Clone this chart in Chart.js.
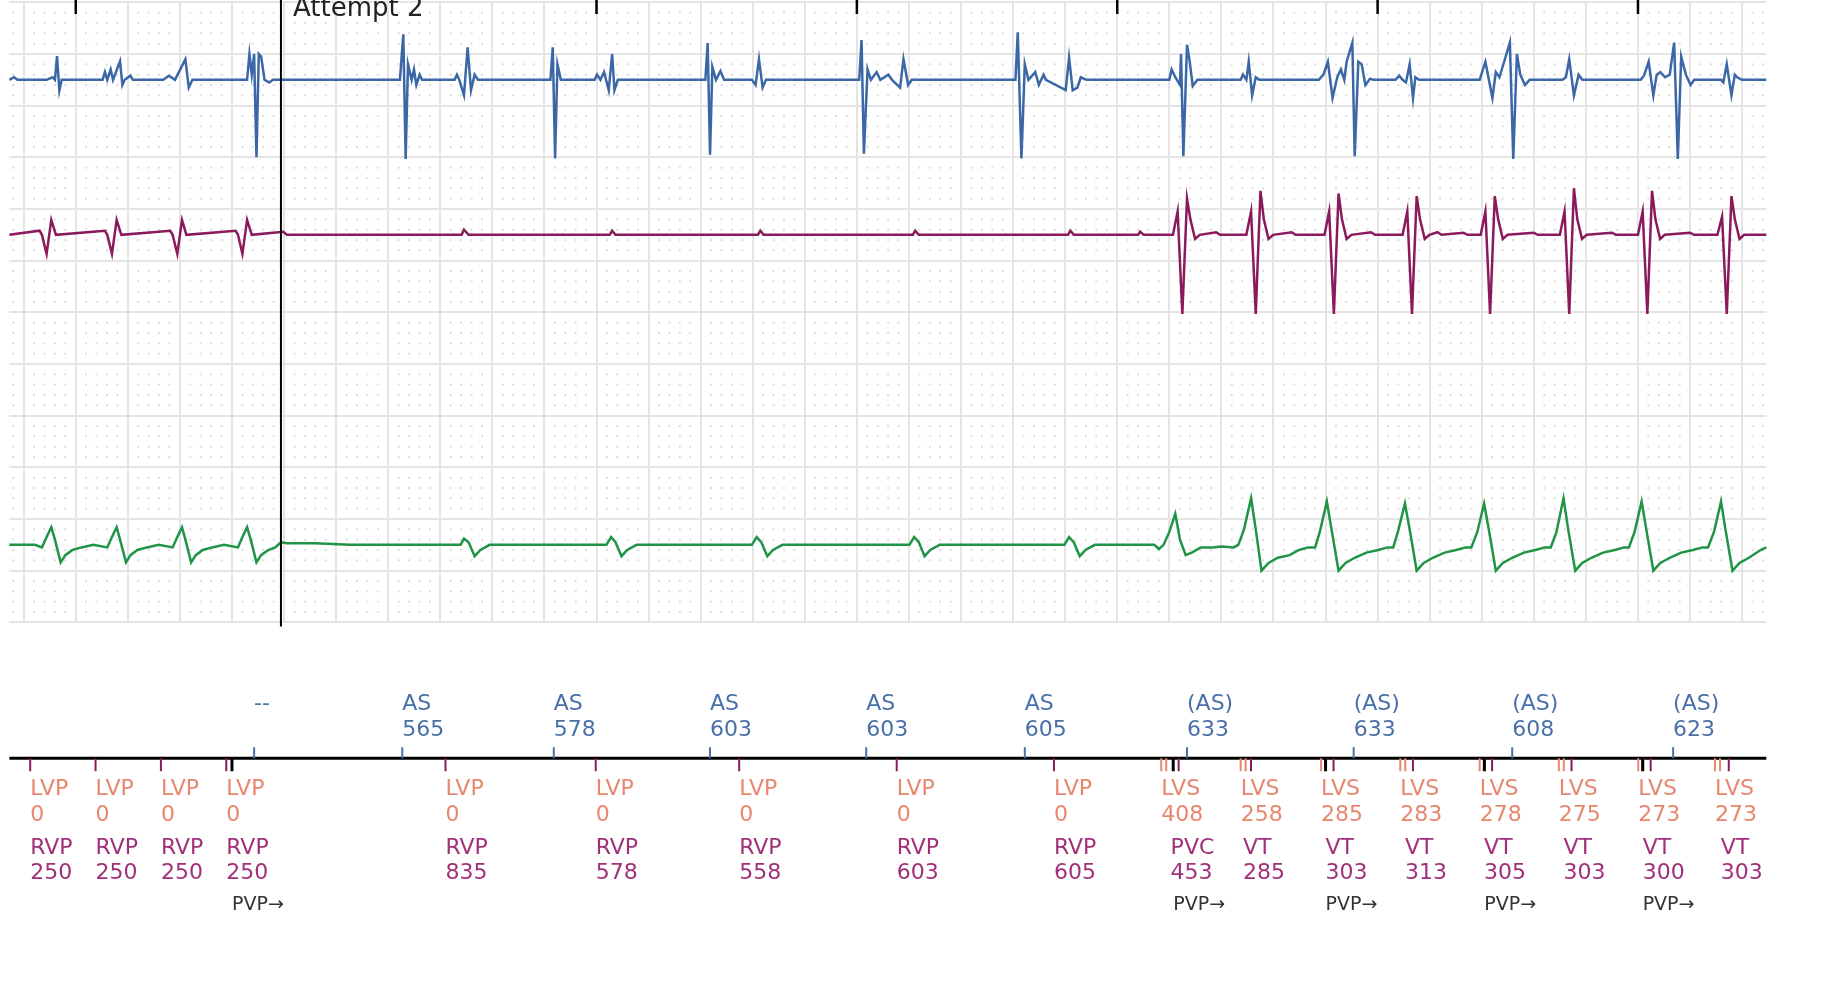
<!DOCTYPE html>
<html><head><meta charset="utf-8">
<script src="https://cdn.jsdelivr.net/npm/chart.js@4"></script>
<style>html,body{margin:0;padding:0;background:#fff;overflow:hidden}canvas{display:block}</style>
</head><body><canvas id="c" width="1827" height="1007"></canvas>
<script>
// ---- data (time in ms, amplitude in grid boxes) ----
const blueTrace=[[-255,0],[-237,0.05],[-224,0],[-112,0],[-89,0.05],[-80,0],[-72,0.46],[-63,-0.21],[-54,0],[-22,0],
[103,0],[112,0.15],[121,0],[134,0.2],[143,0],[170,0.36],[179,-0.1],[188,0],[210,0.08],[219,0],
[336,0],[358,0.08],[381,0],[421,0.4],[434,-0.15],[448,0],
[658,0],[667,0.5],[676,0.1],[685,0.5],[694,-1.5],[703,0.5],[712,0.45],[725,0],[743,-0.05],[757,0],
[1245,0],[1258,0.88],[1267,-1.53],[1276,0.3],[1290,0],[1299,0.2],[1308,-0.1],[1321,0.1],[1330,0],
[1455,0],[1464,0.1],[1473,0],[1491,-0.3],[1505,0.63],[1518,-0.2],[1532,0.1],[1545,0],
[1823,0],[1832,0.63],[1841,-1.52],[1850,0.3],[1863,0],
[1993,0],[2002,0.1],[2015,0],[2029,0.15],[2047,-0.2],[2060,0.5],[2069,-0.2],[2082,0],
[2418,0],[2427,0.71],[2436,-1.45],[2445,0.25],[2459,0],[2476,0.17],[2490,0],[2597,0],[2611,-0.1],[2624,0.4],[2638,-0.15],[2651,0],
[3009,0],[3018,0.77],[3027,-1.43],[3041,0.2],[3054,0],[3076,0.15],[3090,0],[3121,0.1],[3135,0],[3166,-0.15],[3179,0.4],[3197,-0.1],[3211,0],
[3609,0],[3618,0.92],[3632,-1.52],[3645,0.3],[3659,0],[3685,0.15],[3699,-0.1],[3708,0],[3717,0.1],[3726,0],
[3802,-0.2],[3815,0.43],[3829,-0.2],[3847,-0.15],[3860,0.05],[3882,0],
[4200,0],[4209,0.2],[4223,0.05],[4241,-0.1],[4245,0.5],[4254,-1.48],[4268,0.68],[4277,0.4],[4290,-0.12],[4308,0],
[4474,0],[4483,0.1],[4496,0],[4505,0.35],[4518,-0.3],[4532,0.05],[4545,0],
[4774,0],[4792,0.1],[4809,0.35],[4827,-0.35],[4845,0.05],[4859,0.2],[4872,0],[4881,0.35],[4903,0.72],[4912,-1.48],[4926,0.35],[4939,0.3],[4953,-0.1],[4971,0.02],[4984,0],
[5069,0],[5083,0.08],[5096,0],[5109,-0.05],[5123,0.3],[5136,-0.35],[5145,0.05],[5159,0],
[5392,0],[5414,0.35],[5441,-0.35],[5454,0.15],[5468,0.05],[5486,0.35],[5508,0.72],[5521,-1.53],[5535,0.5],[5548,0.1],[5566,-0.1],[5584,0],
[5710,0],[5723,0.05],[5736,0.4],[5754,-0.3],[5772,0.1],[5786,0],
[6010,0],[6023,0.08],[6041,0.35],[6059,-0.3],[6072,0.1],[6086,0.15],[6104,0.05],[6122,0.1],[6139,0.72],[6153,-1.53],[6166,0.45],[6184,0.1],[6202,-0.1],[6216,0],
[6319,0],[6328,-0.05],[6341,0.3],[6359,-0.3],[6372,0.1],[6381,0.05],[6399,0],[6493,0]];

const purpleTrace=[[-255,0],[-139,0.08],[-130,0],[-112,-0.37],[-94,0.29],[-76,0],
[112,0.08],[121,0],[139,-0.37],[157,0.29],[175,0],
[363,0.08],[372,0],[390,-0.37],[408,0.29],[425,0],
[614,0.08],[623,0],[640,-0.37],[658,0.29],[676,0],
[797,0.06],[811,0],[1482,0],[1491,0.1],[1509,0],[2051,0],[2060,0.08],[2073,0],[2620,0],[2629,0.08],[2642,0],
[3215,0],[3224,0.08],[3238,0],[3811,0],[3820,0.08],[3833,0],[4080,0],[4088,0.06],[4102,0],
[4214,0],[4232,0.45],[4250,-1.53],[4268,0.7],[4281,0.3],[4299,-0.08],[4317,0],[4380,0.05],[4395,0],
[4496,0],[4514,0.45],[4532,-1.53],[4550,0.85],[4563,0.3],[4581,-0.08],[4599,0],[4670,0.05],[4685,0],
[4796,0],[4814,0.45],[4832,-1.53],[4850,0.8],[4863,0.3],[4881,-0.08],[4899,0],[4975,0.05],[4990,0],
[5096,0],[5114,0.45],[5132,-1.53],[5150,0.75],[5163,0.3],[5181,-0.08],[5199,0],[5230,0.05],[5245,0],[5330,0.04],[5345,0],
[5396,0],[5414,0.45],[5432,-1.53],[5450,0.75],[5463,0.3],[5481,-0.08],[5499,0],[5600,0.04],[5615,0],
[5700,0],[5718,0.45],[5736,-1.53],[5754,0.9],[5767,0.3],[5785,-0.08],[5803,0],[5900,0.04],[5915,0],
[6000,0],[6018,0.45],[6036,-1.53],[6054,0.85],[6067,0.3],[6085,-0.08],[6103,0],[6200,0.04],[6215,0],
[6305,0],[6323,0.35],[6341,-1.53],[6359,0.75],[6372,0.3],[6390,-0.08],[6408,0],[6493,0]];

const greenTrace=[[-255,0],[-157,0],[-130,-0.05],[-112,0.15],[-94,0.34],[-80,0.1],[-58,-0.34],[-40,-0.2],[-13,-0.1],[22,-0.05],[67,0],
[121,-0.05],[139,0.15],[157,0.34],[170,0.1],[193,-0.34],[210,-0.2],[237,-0.1],[273,-0.05],[318,0],
[372,-0.05],[390,0.15],[408,0.34],[421,0.1],[443,-0.34],[461,-0.2],[488,-0.1],[524,-0.05],[569,0],
[623,-0.05],[640,0.15],[658,0.34],[672,0.1],[694,-0.34],[712,-0.2],[739,-0.1],[766,-0.05],[788,0.05],[811,0.03],[918,0.03],[1052,0],
[1478,0],[1491,0.12],[1509,0.05],[1532,-0.22],[1554,-0.1],[1590,0],
[2038,0],[2056,0.15],[2073,0.05],[2096,-0.22],[2118,-0.1],[2154,0],
[2597,0],[2615,0.15],[2633,0.05],[2656,-0.22],[2678,-0.1],[2714,0],
[3202,0],[3220,0.15],[3238,0.05],[3260,-0.22],[3282,-0.1],[3318,0],
[3797,0],[3815,0.15],[3833,0.05],[3856,-0.22],[3878,-0.1],[3914,0],
[4142,0],[4160,-0.08],[4178,0],[4200,0.25],[4223,0.6],[4241,0.1],[4263,-0.2],[4286,-0.15],[4321,-0.05],[4366,-0.05],[4402,-0.03],[4447,-0.05],
[4465,0],[4487,0.3],[4514,0.9],[4532,0.3],[4554,-0.5],[4581,-0.35],[4617,-0.25],[4662,-0.2],[4698,-0.1],[4733,-0.05],
[4760,-0.05],[4778,0.25],[4805,0.84],[4823,0.3],[4850,-0.5],[4877,-0.35],[4912,-0.25],[4957,-0.15],[5002,-0.1],[5038,-0.05],
[5060,-0.05],[5078,0.25],[5105,0.8],[5123,0.3],[5150,-0.5],[5177,-0.35],[5212,-0.25],[5257,-0.15],[5302,-0.1],[5338,-0.05],
[5360,-0.05],[5383,0.25],[5409,0.8],[5427,0.3],[5454,-0.5],[5481,-0.35],[5517,-0.25],[5562,-0.15],[5606,-0.1],[5642,-0.05],
[5665,-0.05],[5687,0.25],[5714,0.9],[5732,0.3],[5759,-0.5],[5786,-0.35],[5821,-0.25],[5866,-0.15],[5911,-0.1],[5947,-0.05],
[5965,-0.05],[5987,0.25],[6014,0.84],[6032,0.3],[6059,-0.5],[6086,-0.35],[6122,-0.25],[6166,-0.15],[6211,-0.1],[6247,-0.05],
[6269,-0.05],[6292,0.25],[6319,0.84],[6336,0.3],[6363,-0.5],[6390,-0.35],[6426,-0.25],[6471,-0.1],[6493,-0.05]];

const atrialT=[685,1254,1836,2436,3036,3645,4268,4908,5517,6135];
const atrialLabel=['--','AS','AS','AS','AS','AS','(AS)','(AS)','(AS)','(AS)'];
const atrialValue=['','565','578','603','603','605','633','633','608','623'];
const lvT=[-175,76,327,578,1420,1997,2548,3153,3757,4169,4474,4783,5087,5392,5696,6001,6296];
const lvLabel=['LVP','LVP','LVP','LVP','LVP','LVP','LVP','LVP','LVP','LVS','LVS','LVS','LVS','LVS','LVS','LVS','LVS'];
const lvValue=['0','0','0','0','0','0','0','0','0','408','258','285','283','278','275','273','273'];
const rvT=[-175,76,327,578,1420,1997,2548,3153,3757,4205,4483,4800,5105,5409,5714,6018,6318];
const rvLabel=['RVP','RVP','RVP','RVP','RVP','RVP','RVP','RVP','RVP','PVC','VT','VT','VT','VT','VT','VT','VT'];
const rvValue=['250','250','250','250','835','578','558','603','605','453','285','303','313','305','303','300','303'];
const pvpT=[600,4215,4800,5410,6018];
const topTicks=[0,2000,3000,4000,5000,6000];
const cursorT=788;
const cursorLabel='Attempt 2';

// ---- layout constants ----
const T0=-255,T1=6493;
const BASE={blue:-1.5,purple:-4.5,green:-10.5};
const LINE_Y=-14.63;
const toPts=(tr,b)=>tr.map(p=>({x:p[0],y:p[1]+b}));

const F='"DejaVu Sans", sans-serif';
const deco={
 id:'deco',
 beforeDatasetsDraw(ch){
  const {ctx}=ch,x=ch.scales.x,y=ch.scales.y;
  const xl=x.getPixelForValue(T0),xr=x.getPixelForValue(T1),yt=y.getPixelForValue(0),yb=y.getPixelForValue(-12);
  ctx.save();
  ctx.fillStyle='#dcdcdc';
  for(let t=-240;t<T1;t+=40){ if(((t%200)+200)%200===0) continue;
    const px=x.getPixelForValue(t);
    for(let v=-0.2;v>-12;v-=0.2){ if(Math.abs(v-Math.round(v))<0.01) continue; ctx.fillRect(px-1,y.getPixelForValue(v)-1,2,2);} }
  ctx.strokeStyle='#e4e4e4';ctx.lineWidth=2;
  ctx.beginPath();
  for(let t=-200;t<T1;t+=200){const px=Math.round(x.getPixelForValue(t));ctx.moveTo(px,yt);ctx.lineTo(px,yb);}
  for(let v=0;v>=-12;v--){const py=Math.round(y.getPixelForValue(v));ctx.moveTo(xl,py);ctx.lineTo(xr,py);}
  ctx.stroke();
  ctx.restore();
 },
 afterDatasetsDraw(ch){
  const {ctx}=ch,x=ch.scales.x,y=ch.scales.y;
  const P=t=>x.getPixelForValue(t),Y=v=>y.getPixelForValue(v);
  ctx.save();
  ctx.strokeStyle='#000';ctx.lineWidth=2;
  ctx.beginPath();ctx.moveTo(P(cursorT),0);ctx.lineTo(P(cursorT),Y(-12.08));ctx.stroke();
  ctx.fillStyle='#222';ctx.font='26px '+F;ctx.textBaseline='top';ctx.textAlign='left';
  ctx.fillText(cursorLabel,P(cursorT)+12,-4);
  ctx.lineWidth=2.5;
  topTicks.forEach(t=>{ctx.beginPath();ctx.moveTo(P(t),0);ctx.lineTo(P(t),14);ctx.stroke();});
  const ly=Y(LINE_Y);
  ctx.lineWidth=3;ctx.beginPath();ctx.moveTo(P(T0),ly);ctx.lineTo(P(T1),ly);ctx.stroke();
  ctx.textBaseline='middle';ctx.font='22px '+F;
  atrialT.forEach((t,i)=>{
    ctx.strokeStyle='#4a70a8';ctx.lineWidth=2;
    ctx.beginPath();ctx.moveTo(P(t),ly);ctx.lineTo(P(t),ly-11);ctx.stroke();
    ctx.fillStyle='#4a70a8';
    ctx.fillText(atrialLabel[i],P(t),Y(-13.59));
    ctx.fillText(atrialValue[i],P(t),Y(-14.09));
  });
  lvT.forEach((t,i)=>{
    ctx.strokeStyle=lvLabel[i]==='LVS'?'#e8866f':'#8b1a5c';ctx.lineWidth=2;
    ctx.beginPath();ctx.moveTo(P(t),ly);ctx.lineTo(P(t),ly+13);ctx.stroke();
    if(lvLabel[i]==='LVS'){ctx.beginPath();ctx.moveTo(P(t)+5,ly);ctx.lineTo(P(t)+5,ly+13);ctx.stroke();}
    ctx.fillStyle='#e8866f';
    ctx.fillText(lvLabel[i],P(t),Y(-15.24));
    ctx.fillText(lvValue[i],P(t),Y(-15.73));
  });
  rvT.forEach((t,i)=>{
    ctx.strokeStyle='#8b1a5c';ctx.lineWidth=2;
    if(rvLabel[i]!=='RVP'){ctx.beginPath();ctx.moveTo(P(t)+8,ly);ctx.lineTo(P(t)+8,ly+13);ctx.stroke();}
    ctx.fillStyle='#a0307a';
    ctx.fillText(rvLabel[i],P(t),Y(-16.37));
    ctx.fillText(rvValue[i],P(t),Y(-16.86));
  });
  pvpT.forEach(t=>{
    ctx.strokeStyle='#000';ctx.lineWidth=3;
    ctx.beginPath();ctx.moveTo(P(t),ly);ctx.lineTo(P(t),ly+13);ctx.stroke();
    ctx.fillStyle='#333';ctx.font='19px '+F;
    ctx.fillText('PVP\u2192',P(t),Y(-17.47));ctx.font='22px '+F;
  });
  ctx.restore();
 }
};

const ds=(tr,b,c)=>({data:toPts(tr,b),borderColor:c,borderWidth:2.5,pointRadius:0,showLine:true,tension:0,fill:false});
new Chart(document.getElementById('c'),{
 type:'scatter',
 data:{datasets:[ds(blueTrace,BASE.blue,'#3b67a6'),ds(purpleTrace,BASE.purple,'#8b1a5c'),ds(greenTrace,BASE.green,'#1f9444')]},
 options:{responsive:false,animation:false,devicePixelRatio:1,
  layout:{padding:0},
  plugins:{legend:{display:false},tooltip:{enabled:false}},
  scales:{x:{type:'linear',min:-291,max:6726,display:false},y:{type:'linear',min:-19.445,max:0.045,display:false}}},
 plugins:[deco]
});
</script></body></html>
